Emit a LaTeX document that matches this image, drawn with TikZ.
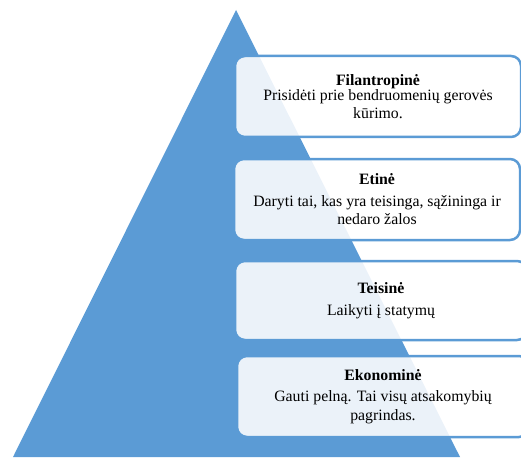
\documentclass[tikz,border=0pt]{standalone}
\usepackage{fontspec}
\setmainfont{Liberation Serif}
\definecolor{pyrblue}{RGB}{91,155,213}
\begin{document}
\begin{tikzpicture}[x=1pt,y=-1pt,
  level/.style={draw=pyrblue, line width=2.5pt, rounded corners=10pt,
    fill=white, fill opacity=0.88, text opacity=1, align=center,
    inner sep=0pt, minimum width=286pt, minimum height=81pt,
    font=\fontsize{15.8}{18.5}\selectfont},
]
\useasboundingbox (0,0) rectangle (521,457);
% pyramid
\fill[pyrblue] (236,10) -- (460,457) -- (13,457) -- cycle;
% levels, top to bottom
\node[level] (phil) at (378,96.5)
  {\textbf{Filantropinė}\\[-3.5pt]Prisidėti prie bendruomenių gerovės\\kūrimo.};
\node[level] (eth) at (377,199.5)
  {\textbf{Etinė}\\[3pt]Daryti tai, kas yra teisinga, sąžininga ir\\nedaro žalos};
\node[level, minimum width=292pt, minimum height=79pt] (legal) at (381,300.5)
  {\textbf{Teisinė}\\[3pt]Laikyti į statymų};
\node[level, minimum width=292pt] (econ) at (383,396.5)
  {\textbf{Ekonominė}\\[3pt]Gauti pelną. Tai visų atsakomybių\\pagrindas.};
\end{tikzpicture}
\end{document}
